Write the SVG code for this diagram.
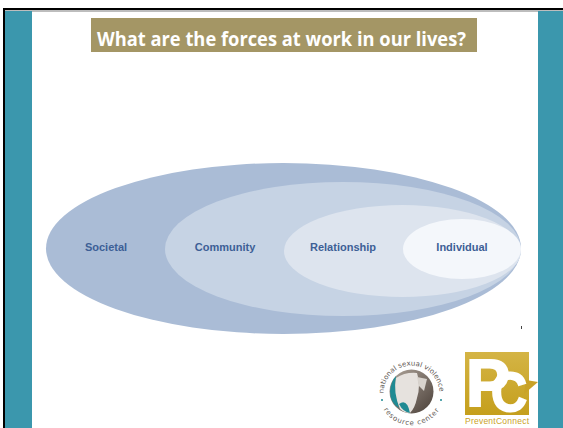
<svg xmlns="http://www.w3.org/2000/svg" width="563" height="428" viewBox="0 0 563 428">
<style>
.lbl{font-family:"Liberation Sans",Arial,sans-serif;font-size:11px;font-weight:bold;fill:#3d5f96;text-anchor:middle}
.ring{font-family:"DejaVu Sans",sans-serif;font-size:7px;fill:#5f5954}
.pc{font-family:"Liberation Sans",sans-serif;font-weight:bold;fill:#fff;stroke:#fff;stroke-width:2}
</style>
<defs>
<linearGradient id="pcg" x1="0" y1="0" x2="0" y2="1"><stop offset="0" stop-color="#d4b445"/><stop offset="1" stop-color="#c59f1c"/></linearGradient>
<linearGradient id="orb" x1="0" y1="0" x2="1" y2="1"><stop offset="0" stop-color="#b0a69c"/><stop offset="1" stop-color="#4a3f38"/></linearGradient>
<path id="arcTop" d="M383.500 393.500A28 28 0 1 1 439.500 393.500"/>
<path id="arcBot" d="M382 407A33 33 0 0 0 441 407"/>
</defs>
<rect width="563" height="428" fill="#fff"/>
<g id="frame">
<rect x="3" y="8" width="560" height="420" fill="#000"/>
<rect x="5" y="10" width="558" height="418" fill="#fff"/>
<rect x="5" y="10" width="558" height="2" fill="#bdbdbd"/>
<rect x="5" y="11" width="27" height="417" fill="#3b97ad"/>
<rect x="538" y="11" width="25" height="417" fill="#3b97ad"/>
</g>
<g id="title">
<rect x="91" y="18" width="386" height="34" fill="#a49665"/>
<text x="97" y="46" font-family="'Open Sans','Liberation Sans',sans-serif" font-size="20" font-weight="bold" fill="#fff" textLength="369" lengthAdjust="spacingAndGlyphs">What are the forces at work in our lives?</text>
</g>
<g id="societal"><ellipse cx="283.500" cy="248.500" rx="237.500" ry="85.500" fill="#aabcd6"/><text class="lbl" x="106" y="251">Societal</text></g>
<g id="community"><ellipse cx="343" cy="249" rx="178" ry="67" fill="#c6d3e4"/><text class="lbl" x="225" y="251">Community</text></g>
<g id="relationship"><ellipse cx="402.500" cy="251" rx="118.500" ry="46" fill="#dde4ee"/><text class="lbl" x="343" y="251">Relationship</text></g>
<g id="individual"><ellipse cx="462" cy="249" rx="59" ry="30" fill="#f4f7fb"/><text class="lbl" x="462" y="251">Individual</text></g>
<rect x="521" y="326" width="1" height="3" fill="#444"/>
<g id="nsvrc-logo">
<circle cx="411.500" cy="391.500" r="22" fill="url(#orb)"/>
<path d="M396 376Q391 381 390 391Q390 403 399 408Q394 390 396 376Z" fill="#1f8a93"/>
<path d="M396 378Q405 372 417 373Q421 385 417 398Q415 408 410 413Q404 413 400 409Q393 392 396 378Z" fill="#e6e2de"/>
<path d="M417 377L427 379L424 391L419 386Z" fill="#d8d3cd"/>
<path d="M399 404Q407 398 410 413Q403 412 399 404Z" fill="#1f8a93"/>
<text class="ring"><textPath href="#arcTop" textLength="86">national sexual violence</textPath></text>
<text class="ring"><textPath href="#arcBot" startOffset="3" textLength="66">resource center</textPath></text>
<circle cx="382" cy="400" r="1" fill="#1f8a93"/><circle cx="441" cy="400" r="1" fill="#1f8a93"/>
</g>
<g id="pc-logo">
<rect x="465" y="352" width="64" height="63" fill="url(#pcg)"/>
<path d="M526 380L538 382L524 394Z" fill="#c9a227"/>
<text class="pc" x="466" y="406" font-size="66" textLength="44" lengthAdjust="spacingAndGlyphs">P</text>
<text class="pc" x="491" y="411" font-size="56" textLength="36" lengthAdjust="spacingAndGlyphs">C</text>
<text x="465" y="424" font-family="'Liberation Sans',sans-serif" font-size="8.500" fill="#c9a227" textLength="64" lengthAdjust="spacing">PreventConnect</text>
</g>
</svg>
